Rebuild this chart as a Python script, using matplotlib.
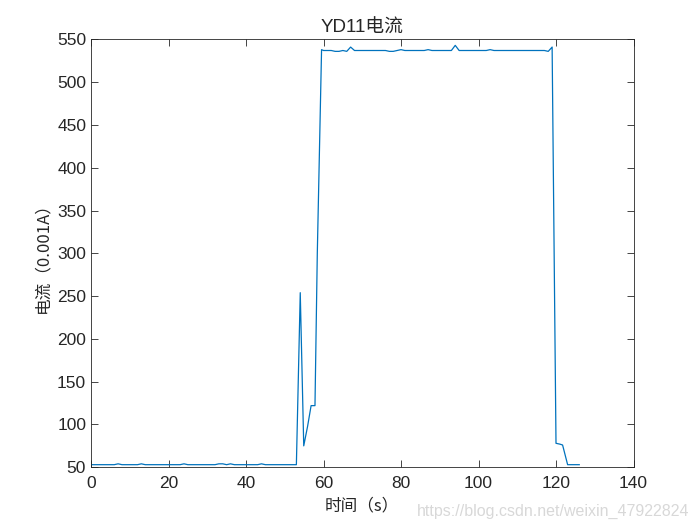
import matplotlib
matplotlib.use('Agg')
import matplotlib.pyplot as plt

plt.rcParams['font.family'] = ['Liberation Sans', 'Noto Sans CJK SC']

# time (s) and current (0.001 A)
t_low = list(range(0, 54))
i_low = [53, 53, 53, 53, 53, 53, 53, 54, 53, 53,
         53, 53, 53, 54, 53, 53, 53, 53, 53, 53,
         53, 53, 53, 53, 54, 53, 53, 53, 53, 53,
         53, 53, 53, 54, 54, 53, 54, 53, 53, 53,
         53, 53, 53, 53, 54, 53, 53, 53, 53, 53,
         53, 53, 53, 53]
t_ramp = [54, 54.9, 55.9, 56.8, 57.8, 58.4, 59.5]
i_ramp = [254, 75, 98, 122, 122, 300, 538]
t_high = list(range(60, 120))
i_high = [537, 537, 537, 536, 536, 537, 536, 541, 537, 537,
          537, 537, 537, 537, 537, 537, 537, 536, 536, 537,
          538, 537, 537, 537, 537, 537, 537, 538, 537, 537,
          537, 537, 537, 537, 543, 537, 537, 537, 537, 537,
          537, 537, 537, 538, 537, 537, 537, 537, 537, 537,
          537, 537, 537, 537, 537, 537, 537, 537, 536, 541]
t_tail = [120, 121, 121.7, 123, 124, 125, 126]
i_tail = [78, 77, 76, 53, 53, 53, 53]

t = t_low + t_ramp + t_high + t_tail
cur = i_low + i_ramp + i_high + i_tail

fig = plt.figure(figsize=(7, 5.25), dpi=100)
ax = fig.add_axes([0.13, 0.11, 0.775, 0.815])
ax.plot(t, cur, color='#0072BD', linewidth=0.9)

ax.set_xlim(0, 140)
ax.set_ylim(50, 550)
ax.set_xticks(range(0, 141, 20))
ax.set_yticks(range(50, 551, 50))
ax.tick_params(direction='in', top=True, right=True, labelsize=12.5,
               length=5, width=0.6, colors='#262626')
ax.tick_params(axis='x', pad=6)
for s in ax.spines.values():
    s.set_linewidth(0.6)
    s.set_color('#262626')

cjk = ['Noto Sans CJK SC', 'DejaVu Sans']
ax.set_title('YD11电流', fontsize=13.5, color='#262626', pad=5)
ax.set_xlabel('时间（s）', fontsize=12, color='#262626', family=cjk,
              labelpad=5)
ax.set_ylabel('电流（0.001A）', fontsize=12, color='#262626', family=cjk)

fig.text(0.985, 0.012, 'https://blog.csdn.net/weixin_47922824', ha='right',
         va='bottom', fontsize=11.5, color='#d8d8d8')

fig.savefig('out.png', dpi=100)
